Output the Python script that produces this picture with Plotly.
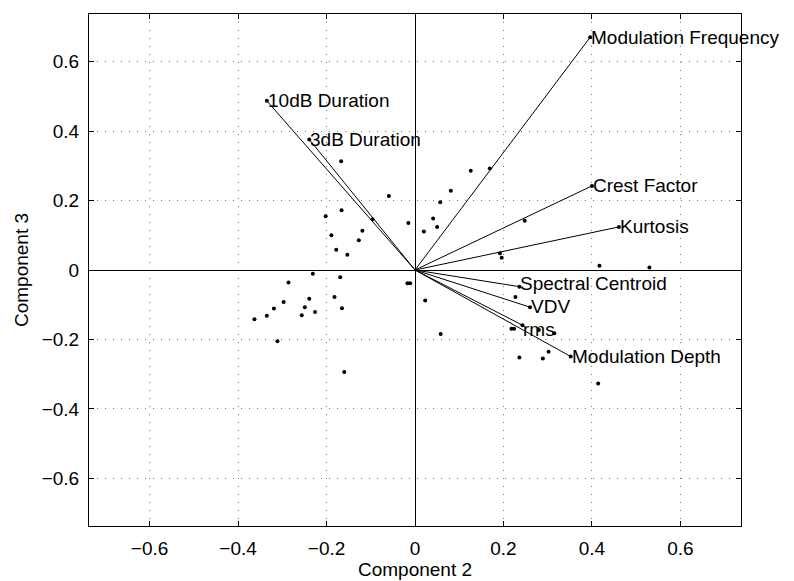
import plotly.graph_objects as go

# Loading vectors (Component 2, Component 3)
var_names = ["Modulation Frequency", "10dB Duration", "3dB Duration", "Crest Factor",
             "Kurtosis", "Spectral Centroid", "VDV", "rms", "Modulation Depth"]
var_x = [0.396, -0.335, -0.239, 0.400, 0.461, 0.236, 0.260, 0.243, 0.352]
var_y = [0.670, 0.487, 0.376, 0.242, 0.124, -0.048, -0.107, -0.159, -0.249]

# Observation scores
obs_x = [-0.167, -0.059, -0.166, -0.202, -0.015, -0.096, -0.119, -0.189, -0.127, -0.178,
         -0.153, -0.231, -0.169, -0.286, -0.017, -0.011, -0.182, -0.239, -0.297, -0.249,
         -0.165, -0.319, -0.226, -0.256, -0.335, -0.363, -0.311, -0.160,
         0.126, 0.169, 0.081, 0.057, 0.041, 0.020, 0.050, 0.248, 0.192, 0.196,
         0.417, 0.530, 0.023, 0.058, 0.227, 0.218, 0.224, 0.280, 0.315, 0.236,
         0.289, 0.302, 0.414]
obs_y = [0.313, 0.213, 0.172, 0.155, 0.135, 0.146, 0.113, 0.100, 0.086, 0.058,
         0.044, -0.011, -0.021, -0.036, -0.038, -0.038, -0.078, -0.083, -0.092, -0.107,
         -0.110, -0.111, -0.121, -0.130, -0.132, -0.142, -0.205, -0.294,
         0.286, 0.292, 0.228, 0.195, 0.148, 0.111, 0.124, 0.142, 0.048, 0.035,
         0.012, 0.007, -0.088, -0.184, -0.078, -0.169, -0.169, -0.173, -0.182, -0.252,
         -0.255, -0.235, -0.327]

tick_vals = [-0.6, -0.4, -0.2, 0, 0.2, 0.4, 0.6]
axis_lim = 0.737

FONT = "Liberation Sans, Arial, Helvetica, sans-serif"
FS = 19

fig = go.Figure()

# vector lines
lx, ly = [], []
for x, y in zip(var_x, var_y):
    lx += [0, x, None]
    ly += [0, y, None]
fig.add_trace(go.Scatter(x=lx, y=ly, mode="lines", line=dict(color="black", width=1),
                         hoverinfo="skip", showlegend=False))
fig.add_trace(go.Scatter(x=var_x, y=var_y, mode="markers",
                         marker=dict(color="black", size=4), showlegend=False))
fig.add_trace(go.Scatter(x=obs_x, y=obs_y, mode="markers",
                         marker=dict(color="black", size=4), showlegend=False))

label_yshift = {"Spectral Centroid": 3, "VDV": 1, "rms": -4}
for n, x, y in zip(var_names, var_x, var_y):
    fig.add_annotation(x=x, y=y, text=n, showarrow=False, xanchor="left", yanchor="middle",
                       xshift=0, yshift=label_yshift.get(n, 0), borderpad=0,
                       font=dict(family=FONT, size=FS, color="black"))

axis_common = dict(
    range=[-axis_lim, axis_lim], tickvals=tick_vals,
    showline=True, linecolor="black", linewidth=1, mirror="ticks",
    ticks="inside", ticklen=5, tickcolor="black", tickwidth=1,
    showgrid=True, gridcolor="#777777", gridwidth=1, griddash="1px,7px",
    zeroline=True, zerolinecolor="black", zerolinewidth=1,
    tickfont=dict(family=FONT, size=FS, color="black"),
    automargin=False,
)

fig.update_layout(
    width=794, height=581,
    margin=dict(l=89, r=53, t=14, b=55),
    paper_bgcolor="white", plot_bgcolor="white",
    xaxis=dict(**axis_common, title=dict(text="Component 2", standoff=0,
                                         font=dict(family=FONT, size=FS, color="black")),
               ticklabelstandoff=5),
    yaxis=dict(**axis_common, title=dict(text="Component 3", standoff=8,
                                         font=dict(family=FONT, size=FS, color="black")),
               ticklabelstandoff=5),
    showlegend=False,
)

fig.write_html("out.html")
